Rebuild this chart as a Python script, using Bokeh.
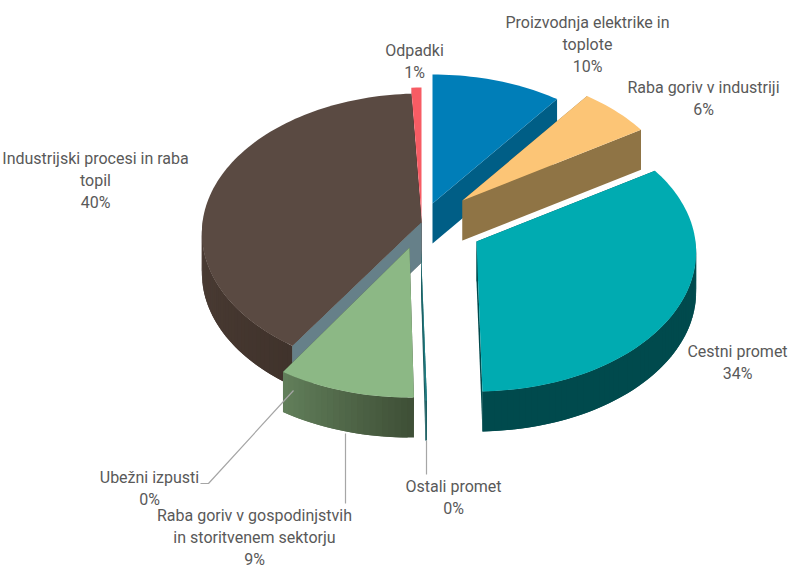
import math
from bokeh.plotting import figure
from bokeh.models import Range1d, ColumnDataSource
from bokeh.core.properties import value
from bokeh.embed import file_html
from bokeh.resources import INLINE

# data, clockwise from twelve o'clock
names = ["Proizvodnja elektrike in toplote", "Raba goriv v industriji", "Cestni promet", "Ostali promet",
         "Raba goriv v gospodinjstvih in storitvenem sektorju", "Ubežni izpusti",
         "Industrijski procesi in raba topil", "Odpadki"]
values = [10.3, 5.8, 33.5, 0.1, 9.4, 0.2, 39.9, 0.8]
labels = ["Proizvodnja elektrike in\ntoplote\n10%", "Raba goriv v industriji\n6%", "Cestni promet\n34%",
          "Ostali promet\n0%", "Raba goriv v gospodinjstvih\nin storitvenem sektorju\n9%", "Ubežni izpusti\n0%",
          "Industrijski procesi in raba\ntopil\n40%", "Odpadki\n1%"]

# styles
top_colors = ["#007eb8", "#fcc576", "#00abb1", "#1d7f84", "#8cb885", "#668089", "#5a4a42", "#f75c64"]
wall_colors = ["#005e86", "#8f7445", "#004a4d", "#1d5f63", "#6a8a63", "#668089", "#4c3d35", "#a83e44"]
wall_dark = ["#005e86", "#8f7445", "#004a4d", "#1d5f63", "#3f5037", "#668089", "#3f322b", "#a83e44"]
apex = [(432, 203), (462, 200), (476, 241), (420.5, 250), (409, 247), (421, 222), (421, 222), (421, 216)]
draw_order = [0, 1, 7, 6, 5, 3, 2, 4]
label_pos = [(587, 44), (703, 98), (737, 362), (453, 497), (254, 537), (149, 488), (95, 180), (414, 61)]
leaders = [([200, 208, 293], [483, 483, 390]), ([345, 345], [503, 433]), ([426, 426], [474, 440])]
A, B, K, DEPTH = 219.0, 138.7, 0.0753, 40.0


def rim(apx, deg):
    t = math.radians(deg)
    w = 1 + K * math.cos(t)
    return apx[0] + A * math.sin(t) / w, apx[1] - B * math.cos(t) / w


def mix(c0, c1, f):
    a = [int(c0[i:i + 2], 16) for i in (1, 3, 5)]
    b = [int(c1[i:i + 2], 16) for i in (1, 3, 5)]
    return "#%02x%02x%02x" % tuple(round(x + (y - x) * f) for x, y in zip(a, b))


p = figure(width=790, height=569, x_range=Range1d(0, 790), y_range=Range1d(569, 0),
           output_backend="svg", toolbar_location=None, min_border=0, outline_line_color=None,
           background_fill_color="white", border_fill_color="white")
p.axis.visible = False
p.grid.visible = False

total = sum(values)
starts = [sum(values[:i]) / total * 360 for i in range(len(values))]
ends = [sum(values[:i + 1]) / total * 360 for i in range(len(values))]

xs, ys, cs = [], [], []
for i in draw_order:
    ap = apex[i]
    n = max(2, int((ends[i] - starts[i]) / 1.5))
    degs = [starts[i] + (ends[i] - starts[i]) * k / n for k in range(n + 1)]
    pts = [rim(ap, d) for d in degs]
    # radial walls
    for q in (pts[0], pts[-1]):
        xs.append([ap[0], q[0], q[0], ap[0]])
        ys.append([ap[1], q[1], q[1] + DEPTH, ap[1] + DEPTH])
        cs.append(wall_dark[i] if i in (6, 4, 2) else wall_colors[i])
    # outer wall, shaded along the rim; each band overlaps the next so no seams show
    for k in range(n):
        d = (degs[k] + degs[k + 1]) / 2
        if 90 < d < 270:
            f = (d - 180) / 40 if i == 4 else (270 - d) / 60
            f = 1 - f if i == 4 else f
            e = pts[min(k + 2, n)]
            xs.append([pts[k][0], e[0], e[0], pts[k][0]])
            ys.append([pts[k][1], e[1], e[1] + DEPTH, pts[k][1] + DEPTH])
            cs.append(mix(wall_colors[i], wall_dark[i], max(0, min(1, f))))
    # top face
    xs.append([ap[0]] + [q[0] for q in pts])
    ys.append([ap[1]] + [q[1] for q in pts])
    cs.append(top_colors[i])

p.patches("xs", "ys", fill_color="cs", line_color=None,
          source=ColumnDataSource(dict(xs=xs, ys=ys, cs=cs)))

for lx, ly in leaders:
    p.line(lx, ly, line_color="#a6a6a6", line_width=1.2)

p.text([q[0] for q in label_pos], [q[1] for q in label_pos], text=labels,
       text_font=value("Roboto"), text_font_size="16px", text_color="#595959",
       text_align="center", text_baseline="middle", text_line_height=1.15)

open("out.html", "w").write(file_html(p, INLINE))
